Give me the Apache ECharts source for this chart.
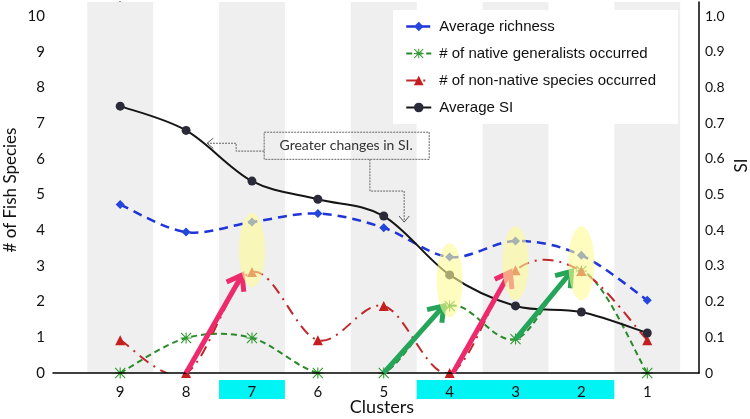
<!DOCTYPE html>
<html>
<head>
<meta charset="utf-8">
<script src="https://cdn.jsdelivr.net/npm/echarts@6/dist/echarts.min.js"></script>
<style>html,body{margin:0;padding:0;background:#fff}#c{width:750px;height:419px}</style>
</head>
<body>
<div id="c"></div>
<script>
// ---- data ----
const categories = ['9', '8', '7', '6', '5', '4', '3', '2', '1'];
const avgRichness = [4.72, 3.95, 4.23, 4.47, 4.07, 3.25, 3.70, 3.30, 2.04];
const nativeGeneralists = [0, 0.98, 0.98, 0, 0, 1.88, 0.95, 2.86, 0];
const nonNative = [0.92, 0, 2.83, 0.92, 1.88, 0, 2.88, 2.86, 0.92];
const avgSI = [0.748, 0.680, 0.538, 0.487, 0.440, 0.275, 0.188, 0.171, 0.112];
const leftTicks = [0, 1, 2, 3, 4, 5, 6, 7, 8, 9, 10];
const rightTicks = [0, 0.1, 0.2, 0.3, 0.4, 0.5, 0.6, 0.7, 0.8, 0.9, 1.0];
const shadedClusters = ['9', '7', '5', '3', '1'];
const highlightedGroups = [['7'], ['4', '3', '2']];
const circledClusters = [
  { cluster: '7', y: 3.45 }, { cluster: '4', y: 2.6 },
  { cluster: '3', y: 3.08 }, { cluster: '2', y: 3.08 }
];
const arrows = [
  { from: [1, 0], to: [1.85, 2.75], color: '#ec2a6c' },
  { from: [4, 0], to: [4.91, 1.88], color: '#25a55a' },
  { from: [5.05, 0], to: [5.92, 2.83], color: '#ec2a6c' },
  { from: [6, 0.95], to: [6.85, 2.85], color: '#25a55a' }
];
const annotationText = 'Greater changes in SI.';

const idx = c => categories.indexOf(c);
const pts = arr => arr.map((v, i) => [i, v]);
const XMIN = -1.02, XMAX = 8.785;
const labelFont = 'Lato, "Open Sans", sans-serif';

const asterisk = 'path://M9,0L11,0L11,20L9,20Z M0,9L20,9L20,11L0,11Z M1.5,0.1L19.9,18.5L18.5,19.9L0.1,1.5Z M18.5,0.1L19.9,1.5L1.5,19.9L0.1,18.5Z';

const seriesDefs = [
  { name: 'Average richness', values: avgRichness, yAxisIndex: 0, symbol: 'diamond', symbolSize: 9,
    markColor: '#2346dc', lineColor: '#1f35d8', width: 2.5, dash: [9, 6] },
  { name: '# of native generalists occurred', values: nativeGeneralists, yAxisIndex: 0, symbol: asterisk, symbolSize: 11,
    markColor: '#2f9a2f', lineColor: '#2a8a2a', width: 2, dash: [6, 4] },
  { name: '# of non-native species occurred', values: nonNative, yAxisIndex: 0, symbol: 'triangle', symbolSize: 10,
    markColor: '#c41e1e', lineColor: '#c0282a', width: 2, dash: [11, 6, 2, 6] },
  { name: 'Average SI', values: avgSI, yAxisIndex: 1, symbol: 'circle', symbolSize: 9,
    markColor: '#2a2a38', lineColor: '#151515', width: 2, dash: null }
];

// smooth curve through the data points (Catmull-Rom style, as in the original spreadsheet chart)
function curveSeries(d) {
  return {
    type: 'custom', name: d.name + ' (curve)', xAxisIndex: 0, yAxisIndex: d.yAxisIndex, z: 3, silent: true, clip: true,
    data: pts(d.values),
    renderItem: (params, api) => {
      if (params.dataIndex !== 0) return null;
      const p = d.values.map((v, i) => api.coord([i, v]));
      let path = 'M' + p[0][0] + ',' + p[0][1];
      for (let i = 0; i < p.length - 1; i++) {
        const p0 = p[i - 1] || p[i], p1 = p[i], p2 = p[i + 1], p3 = p[i + 2] || p[i + 1];
        const c1 = [p1[0] + (p2[0] - p0[0]) / 6, p1[1] + (p2[1] - p0[1]) / 6];
        const c2 = [p2[0] - (p3[0] - p1[0]) / 6, p2[1] - (p3[1] - p1[1]) / 6];
        path += 'C' + c1[0] + ',' + c1[1] + ',' + c2[0] + ',' + c2[1] + ',' + p2[0] + ',' + p2[1];
      }
      return {
        type: 'path', shape: { pathData: path },
        style: { fill: null, stroke: d.lineColor, lineWidth: d.width, lineDash: d.dash || null }
      };
    }
  };
}
function markSeries(d) {
  return {
    type: 'line', name: d.name, xAxisIndex: 0, yAxisIndex: d.yAxisIndex, z: 4,
    data: pts(d.values), symbol: d.symbol, symbolSize: d.symbolSize,
    itemStyle: { color: d.markColor },
    lineStyle: { color: d.lineColor, width: d.width, type: d.dash || 'solid', opacity: 0 }
  };
}

const chart = echarts.init(document.getElementById('c'), null, { renderer: 'canvas' });

const option = {
  animation: false,
  backgroundColor: '#fff',
  grid: [
    { left: 53, right: 51, top: 2, bottom: 46, outerBoundsMode: 'none', containLabel: false },
    { left: 53, right: 51, top: 380, height: 19, outerBoundsMode: 'none', containLabel: false }
  ],
  legend: {
    orient: 'vertical',
    left: 393, top: 10,
    backgroundColor: '#fff',
    padding: [9, 22, 9, 12],
    itemWidth: 25, itemHeight: 12, itemGap: 12,
    textStyle: { fontFamily: '"Liberation Sans", Arial, sans-serif', fontSize: 15, color: '#111', padding: [0, 0, 0, 3] },
    data: seriesDefs.map(d => ({
      name: d.name,
      itemStyle: { color: d.markColor },
      lineStyle: { color: d.lineColor, width: d.width, type: d.dash || 'solid', opacity: 1 }
    }))
  },
  xAxis: [
    {
      type: 'value', gridIndex: 0, min: XMIN, max: XMAX, z: 10,
      axisLine: { show: true, lineStyle: { color: '#000', width: 1.5 } },
      axisTick: { show: false }, splitLine: { show: false },
      axisLabel: {
        customValues: categories.map((c, i) => i),
        formatter: v => categories[Math.round(v)],
        margin: 12, fontSize: 15, fontFamily: labelFont, color: '#111'
      },
      name: 'Clusters', nameLocation: 'middle', nameGap: 25, nameMoveOverlap: false,
      nameTextStyle: { fontSize: 18, fontFamily: labelFont, color: '#111', padding: [0, 0, 0, 12] }
    },
    { type: 'value', gridIndex: 1, min: XMIN, max: XMAX, show: false }
  ],
  yAxis: [
    {
      type: 'value', gridIndex: 0, min: 0, max: 10.4,
      axisLine: { show: true, lineStyle: { color: '#000', width: 1.5 } },
      axisTick: { show: false }, splitLine: { show: false },
      axisLabel: { customValues: leftTicks, margin: 8, fontSize: 15, fontFamily: labelFont, color: '#111' },
      name: '# of Fish Species', nameLocation: 'middle', nameGap: 34, nameRotate: 90, nameMoveOverlap: false,
      nameTextStyle: { fontSize: 17, fontFamily: labelFont, color: '#111', padding: [0, 5, 0, 0] }
    },
    {
      type: 'value', gridIndex: 0, position: 'right', min: 0, max: 1.04,
      axisLine: { show: true, lineStyle: { color: '#000', width: 1.5 } },
      axisTick: { show: false }, splitLine: { show: false },
      axisLabel: {
        customValues: rightTicks, margin: 6, fontSize: 14, fontFamily: labelFont, color: '#111',
        formatter: v => (v === 0 ? '0' : v.toFixed(1))
      },
      name: 'SI', nameLocation: 'middle', nameGap: 34, nameRotate: 90, nameMoveOverlap: false,
      nameTextStyle: { fontSize: 17, fontFamily: labelFont, color: '#111', padding: [0, 0, 0, 44] }
    },
    { type: 'value', gridIndex: 1, min: 0, max: 1, show: false }
  ],
  series: [
    {
      name: 'bands', type: 'line', xAxisIndex: 0, yAxisIndex: 0, data: [], silent: true, z: 0,
      markArea: {
        silent: true,
        itemStyle: { color: '#efefef' },
        data: shadedClusters.map(c => [{ xAxis: idx(c) - 0.5 }, { xAxis: idx(c) + 0.5 }])
      }
    },
    {
      name: 'cyan', type: 'line', xAxisIndex: 1, yAxisIndex: 2, data: [], silent: true, z: 0,
      markArea: {
        silent: true,
        itemStyle: { color: '#00f4f4' },
        data: highlightedGroups.map(g => {
          const ids = g.map(idx);
          return [{ xAxis: Math.min(...ids) - 0.5, yAxis: 0 }, { xAxis: Math.max(...ids) + 0.5, yAxis: 1 }];
        })
      }
    },
    ...seriesDefs.map(curveSeries),
    ...seriesDefs.map(markSeries)
  ]
};
chart.setOption(option);

// ---- decorations positioned through the chart's own scales ----
const P = (x, y) => chart.convertToPixel({ xAxisIndex: 0, yAxisIndex: 0 }, [x, y]);
const g = [];
function head(tip, from, len, ang) {
  const dx = from[0] - tip[0], dy = from[1] - tip[1];
  const d = Math.hypot(dx, dy), ux = dx / d, uy = dy / d;
  const r = (a) => [tip[0] + len * (ux * Math.cos(a) - uy * Math.sin(a)), tip[1] + len * (ux * Math.sin(a) + uy * Math.cos(a))];
  return [r(ang), tip, r(-ang)];
}
arrows.forEach(a => {
  const p0 = P(a.from[0], a.from[1]), p1 = P(a.to[0], a.to[1]);
  g.push({ type: 'polyline', z: 50, shape: { points: [p0, p1] }, style: { stroke: a.color, lineWidth: 5, fill: null } });
  g.push({ type: 'polyline', z: 50, shape: { points: head(p1, p0, 17, 0.62) }, style: { stroke: a.color, lineWidth: 5, fill: null, lineJoin: 'miter' } });
});
circledClusters.forEach(c => {
  const p = P(idx(c.cluster), c.y);
  g.push({ type: 'ellipse', z: 60, shape: { cx: p[0], cy: p[1], rx: 13, ry: 37 }, style: { fill: 'rgba(255,250,150,0.6)' } });
});
// annotation box (data coordinates)
const b0 = P(2.185, 6.75), b1 = P(4.69, 5.99);
g.push({ type: 'rect', z: 40, shape: { x: b0[0], y: b0[1], width: b1[0] - b0[0], height: b1[1] - b0[1] }, style: { fill: null, stroke: '#666', lineWidth: 1, lineDash: [2, 1] } });
const tc = P(3.43, 6.37);
g.push({ type: 'text', z: 41, x: tc[0], y: tc[1], style: { text: annotationText, font: '14px ' + labelFont, fill: '#333', align: 'center', verticalAlign: 'middle' } });
const c1 = [P(2.185, 6.22), P(1.76, 6.22), P(1.76, 6.44), P(1.32, 6.44)];
g.push({ type: 'polyline', z: 40, shape: { points: c1 }, style: { stroke: '#666', lineWidth: 1, lineDash: [2, 1], fill: null } });
g.push({ type: 'polyline', z: 40, shape: { points: head(c1[3], c1[2], 8, 0.7) }, style: { stroke: '#555', lineWidth: 1, fill: null } });
const c2 = [P(3.79, 5.99), P(3.79, 5.10), P(4.31, 5.10), P(4.31, 4.23)];
g.push({ type: 'polyline', z: 40, shape: { points: c2 }, style: { stroke: '#666', lineWidth: 1, lineDash: [2, 1], fill: null } });
g.push({ type: 'polyline', z: 40, shape: { points: head(c2[3], c2[2], 8, 0.7) }, style: { stroke: '#555', lineWidth: 1, fill: null } });
chart.setOption({ graphic: g });
</script>
</body>
</html>
